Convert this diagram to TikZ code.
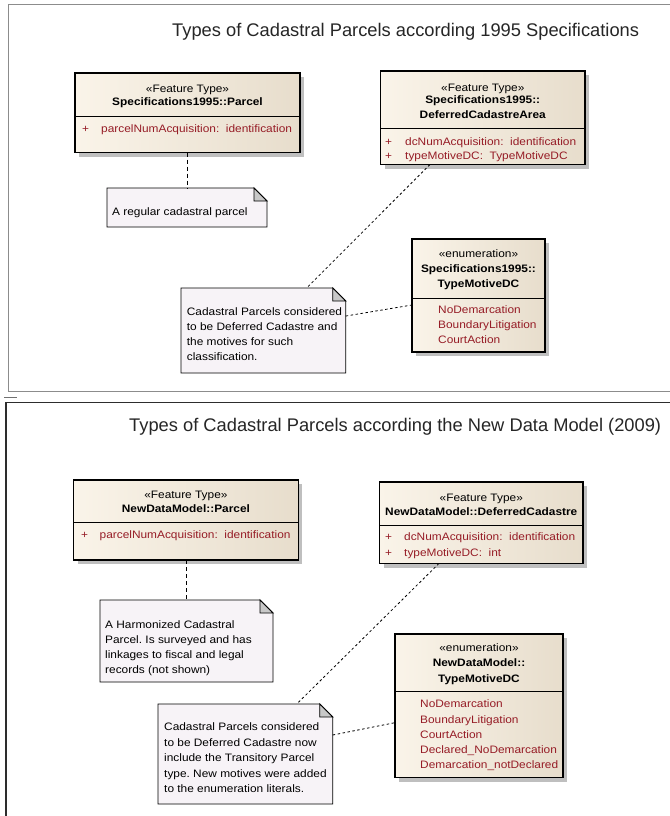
\documentclass[tikz,border=0pt]{standalone}
\usepackage{fontspec}
\setmainfont{Liberation Sans}
\newfontfamily\umlfont[FakeStretch=1.1]{Liberation Sans}
\usetikzlibrary{calc,shadows}
\frenchspacing
\definecolor{clsL}{RGB}{250,244,233}
\definecolor{clsR}{RGB}{231,221,204}
\definecolor{notebg}{RGB}{247,243,247}
\definecolor{foldc}{RGB}{200,200,200}
\definecolor{attrc}{RGB}{150,28,38}
\definecolor{frameA}{RGB}{140,140,140}
\definecolor{frameB}{RGB}{45,45,45}
\newcommand\notefold[1]{%
  \filldraw[fill=notebg,draw=black,line width=0.9pt]
    (#1.north west) -- ($(#1.north east)+(-13,0)$) -- ($(#1.north east)+(0,13)$)
    -- (#1.south east) -- (#1.south west) -- cycle;
  \filldraw[fill=foldc,draw=black,line width=0.9pt]
    ($(#1.north east)+(-13,0)$) -- ($(#1.north east)+(0,13)$) -- ($(#1.north east)+(-13,13)$) -- cycle;}
\tikzset{
  classbox/.style={draw=black, line width=1.1pt, left color=clsL, right color=clsR,
    anchor=north west, inner sep=0pt, outer sep=0pt,
    drop shadow={shadow xshift=4pt, shadow yshift=-4pt, fill=black!25, opacity=1}},
  notebox/.style={anchor=north west, inner sep=0pt, outer sep=0pt},
  sepline/.style={draw=black, line width=1pt},
  hdr/.style={anchor=base, inner sep=0pt, text=black, font=\umlfont\fontsize{10.8}{13}\selectfont},
  hdrb/.style={anchor=base, inner sep=0pt, text=black, font=\umlfont\bfseries\fontsize{10.8}{13}\selectfont},
  attrtxt/.style={anchor=base west, inner sep=0pt, text=attrc, font=\umlfont\fontsize{10.8}{13}\selectfont},
  notetxt/.style={anchor=base west, inner sep=0pt, text=black, font=\umlfont\fontsize{10.8}{13}\selectfont},
  ttl/.style={anchor=base west, inner sep=0pt, text=black!85, font=\fontsize{18.3}{21}\selectfont},
  dlink/.style={draw=black, line width=0.8pt, dash pattern=on 2.5pt off 2.5pt},
  vlink/.style={draw=black, line width=0.8pt, dash pattern=on 4pt off 3pt},
}
\begin{document}
\begin{tikzpicture}[x=1pt,y=-1pt]
\useasboundingbox (0,0) rectangle (669,816);
\fill[white] (0,0) rectangle (669,816);
% frames
\draw[frameA, line width=1pt] (675,4.5) -- (8.5,4.5) -- (8.5,391.5) -- (675,391.5);
\draw[frameA!80!black, line width=1pt] (4,397.7) -- (16.7,397.7);
\draw[frameB, line width=1.6pt] (5.7,820) -- (5.7,402.3) -- (675,402.3);
% titles
\node[ttl] (t1) at (172,36.7) {Types of Cadastral Parcels according 1995 Specifications};
\node[ttl] (t2) at (129,431.5) {Types of Cadastral Parcels according the New Data Model (2009)};

% ---------- upper diagram ----------
\node[classbox, minimum width=225pt, minimum height=79.5pt] (A) at (75,73) {};
\draw[sepline] ($(A.north west)+(0,43)$) -- ($(A.north east)+(0,43)$);
\node[hdr]  (A1) at (187.5,92.1) {«Feature Type»};
\node[hdrb] (A2) at (187.5,105.5) {Specifications1995::Parcel};
\node[attrtxt] (A3) at (82,132) {\makebox[19pt][l]{+}parcelNumAcquisition:\ \ identification};

\node[classbox, minimum width=204.5pt, minimum height=93.5pt] (B) at (380.5,71) {};
\draw[sepline] ($(B.north west)+(0,57.3)$) -- ($(B.north east)+(0,57.3)$);
\node[hdr]  (B1) at (482.75,91.1) {«Feature Type»};
\node[hdrb] (B2) at (482.75,103.8) {Specifications1995::};
\node[hdrb] (B3) at (482.75,118.1) {DeferredCadastreArea};
\node[attrtxt] (B4) at (385,145.5) {\makebox[20pt][l]{+}dcNumAcquisition:\ \ identification};
\node[attrtxt] (B5) at (385,159.5) {\makebox[20pt][l]{+}typeMotiveDC:\ \ TypeMotiveDC};

\node[classbox, minimum width=133pt, minimum height=113pt] (E1) at (412,239) {};
\draw[sepline] ($(E1.north west)+(0,59)$) -- ($(E1.north east)+(0,59)$);
\node[hdr]  (E11) at (478.5,257.8) {«enumeration»};
\node[hdrb] (E12) at (478.5,272.8) {Specifications1995::};
\node[hdrb] (E13) at (478.5,287.8) {TypeMotiveDC};
\node[attrtxt] (E14) at (438,313.8) {NoDemarcation};
\node[attrtxt] (E15) at (438,328.8) {BoundaryLitigation};
\node[attrtxt] (E16) at (438,343.3) {CourtAction};

\node[notebox, minimum width=160pt, minimum height=39pt] (N1) at (107,188) {};
\notefold{N1}
\node[notetxt] (N1a) at (112,215.8) {A regular cadastral parcel};

\node[notebox, minimum width=164.7pt, minimum height=85pt] (N2) at (181,288) {};
\notefold{N2}
\foreach \t [count=\i] in {Cadastral Parcels considered,to be Deferred Cadastre and,the motives for such,classification.}
  \node[notetxt] (N2l\i) at (186.7,{315.5+15.1*(\i-1)}) {\t};

\draw[vlink] (A.south) -- (A.south |- N1.north);
\draw[dlink] ($(B.south west)!0.242!(B.south east)$) -- ($(N2.north west)!0.763!(N2.north east)$);
\draw[dlink] ($(N2.north east)!0.33!(N2.south east)$) -- ($(E1.north west)!0.584!(E1.south west)$);

% ---------- lower diagram ----------
\node[classbox, minimum width=224.8pt, minimum height=80pt] (C) at (73.5,480) {};
\draw[sepline] ($(C.north west)+(0,42)$) -- ($(C.north east)+(0,42)$);
\node[hdr]  (C1) at (185.9,498.8) {«Feature Type»};
\node[hdrb] (C2) at (185.9,512.8) {NewDataModel::Parcel};
\node[attrtxt] (C3) at (81,538.1) {\makebox[18.5pt][l]{+}parcelNumAcquisition:\ \ identification};

\node[classbox, minimum width=203.5pt, minimum height=81.5pt] (D) at (379.5,482) {};
\draw[sepline] ($(D.north west)+(0,43)$) -- ($(D.north east)+(0,43)$);
\node[hdr]  (D1) at (481.25,501.8) {«Feature Type»};
\node[hdrb] (D2) at (481.25,515.8) {NewDataModel::DeferredCadastre};
\node[attrtxt] (D3) at (385,540.8) {\makebox[19pt][l]{+}dcNumAcquisition:\ \ identification};
\node[attrtxt] (D4) at (385,556.8) {\makebox[19pt][l]{+}typeMotiveDC:\ \ int};

\node[classbox, minimum width=168pt, minimum height=143.7pt] (E2) at (395,634) {};
\draw[sepline] ($(E2.north west)+(0,57.7)$) -- ($(E2.north east)+(0,57.7)$);
\node[hdr]  (E21) at (479,651.8) {«enumeration»};
\node[hdrb] (E22) at (479,666.8) {NewDataModel::};
\node[hdrb] (E23) at (479,682.8) {TypeMotiveDC};
\foreach \t [count=\i] in {NoDemarcation,BoundaryLitigation,CourtAction,Declared\_NoDemarcation,Demarcation\_notDeclared}
  \node[attrtxt] (E2l\i) at (420,{707.8+15.25*(\i-1)}) {\t};

\node[notebox, minimum width=173pt, minimum height=82pt] (N3) at (100,600) {};
\notefold{N3}
\foreach \t [count=\i] in {A Harmonized Cadastral,Parcel. Is surveyed and has,linkages to fiscal and legal,records (not shown)}
  \node[notetxt] (N3l\i) at (105,{628.8+15*(\i-1)}) {\t};

\node[notebox, minimum width=174.7pt, minimum height=100pt] (N4) at (158,704) {};
\notefold{N4}
\foreach \t [count=\i] in {Cadastral Parcels considered,to be Deferred Cadastre now,include the Transitory Parcel,type. New motives were added,to the enumeration literals.}
  \node[notetxt] (N4l\i) at (164,{730.8+15.5*(\i-1)}) {\t};

\draw[vlink] (C.south) -- (C.south |- N3.north);
\draw[dlink] ($(D.south west)!0.292!(D.south east)$) -- ($(N4.north west)!0.794!(N4.north east)$);
\draw[dlink] ($(N4.north east)!0.31!(N4.south east)$) -- ($(E2.north west)!0.617!(E2.south west)$);
\end{tikzpicture}
\end{document}
